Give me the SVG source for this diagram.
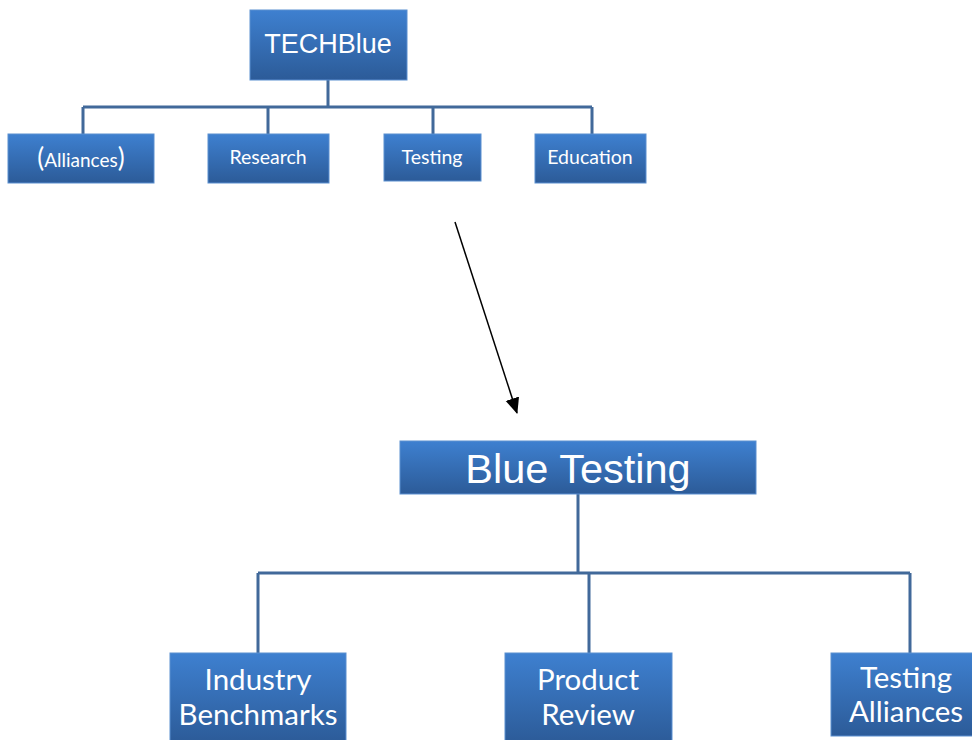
<svg xmlns="http://www.w3.org/2000/svg" width="972" height="740" viewBox="0 0 972 740">
<defs>
<linearGradient id="g" x1="0" y1="0" x2="0" y2="1">
<stop offset="0" stop-color="#3e80d0"/>
<stop offset="1" stop-color="#2c5b98"/>
</linearGradient>
<marker id="ah" markerWidth="16" markerHeight="16" refX="15" refY="7" orient="auto" markerUnits="userSpaceOnUse" viewBox="0 0 16 14">
<path d="M0,0 L16,7 L0,14 z" fill="#000"/>
</marker>
<style>
.box{fill:url(#g);stroke:#5a8fd0;stroke-width:1}
.t{fill:#fff;font-family:Lato,"Liberation Sans",sans-serif;text-anchor:middle}
.a{fill:#fff;font-family:"Liberation Sans",Arial,sans-serif;text-anchor:middle}
.c{fill:none;stroke:#41699a;stroke-width:3}
.p{font-size:26px}
</style>
</defs>
<g id="connectors">
<path class="c" d="M328,80 V107 M83,107 H592 M83,107 V134 M268,107 V134 M433,107 V134 M592,107 V134"/>
<path class="c" d="M578,494 V573 M258,573 H910 M258,573 V653 M589,573 V653 M910,573 V653"/>
<line x1="455" y1="222" x2="517" y2="413" stroke="#000" stroke-width="1.5" marker-end="url(#ah)"/>
</g>
<g id="techblue"><rect class="box" x="250" y="10" width="157" height="70"/><text class="a" x="328" y="53" font-size="27">TECHBlue</text></g>
<g id="alliances"><rect class="box" x="8" y="134" width="146" height="49"/><text class="t" x="81" y="167" font-size="19"><tspan class="p">(</tspan>Alliances<tspan class="p">)</tspan></text></g>
<g id="research"><rect class="box" x="208" y="134" width="121" height="49"/><text class="t" x="268" y="164" font-size="19.5">Research</text></g>
<g id="testing"><rect class="box" x="384" y="134" width="97" height="47"/><text class="t" x="432" y="164" font-size="19.5">Testing</text></g>
<g id="education"><rect class="box" x="535" y="134" width="111" height="49"/><text class="t" x="590" y="164" font-size="19.5">Education</text></g>
<g id="bluetesting"><rect class="box" x="400" y="441" width="356" height="53"/><text class="a" x="578" y="483" font-size="41.5">Blue Testing</text></g>
<g id="industry"><rect class="box" x="170" y="653" width="176" height="90"/><text class="t" x="258" y="690" font-size="29.5">Industry</text><text class="t" x="258" y="725" font-size="29.5">Benchmarks</text></g>
<g id="product"><rect class="box" x="505" y="653" width="167" height="90"/><text class="t" x="588" y="690" font-size="29.5">Product</text><text class="t" x="588" y="725" font-size="29.5">Review</text></g>
<g id="testalliances"><rect class="box" x="831" y="653" width="145" height="83"/><text class="t" x="906" y="688" font-size="29.5">Testing</text><text class="t" x="906" y="722" font-size="29.5">Alliances</text></g>
</svg>
